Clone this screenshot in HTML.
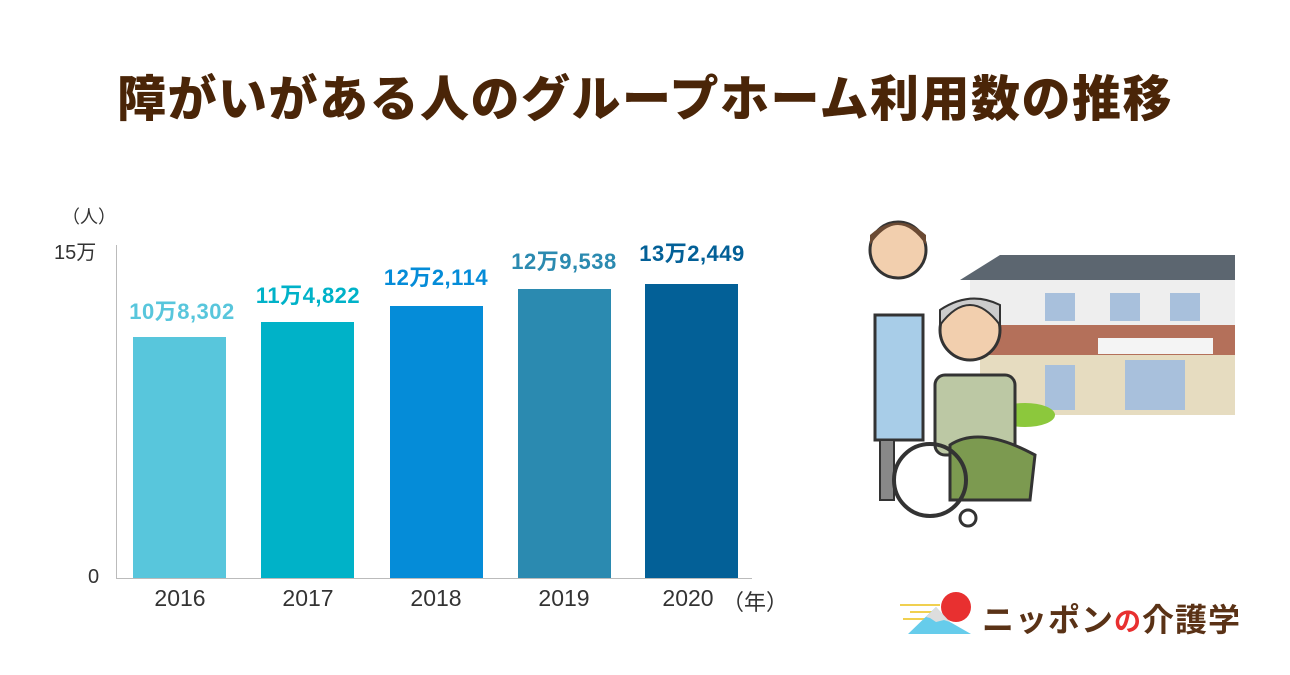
<!DOCTYPE html>
<html><head><meta charset="utf-8"><style>
body{margin:0;width:1290px;height:675px;background:#fff;position:relative;overflow:hidden;font-family:"Liberation Sans","Noto Sans CJK JP",sans-serif}
.t{position:absolute;white-space:nowrap}
.bar{position:absolute;width:93px}
.v{position:absolute;font-weight:bold;font-size:22px;text-align:center;width:140px;letter-spacing:0.5px}
.y{position:absolute;font-size:23px;color:#333;width:100px;text-align:center;top:585px}
</style></head><body>
<div class="t" style="left:0;width:1290px;text-align:center;top:60px;font-size:49px;font-weight:900;color:#4a2508;letter-spacing:1.5px">障がいがある人のグループホーム利用数の推移</div>
<div class="t" style="left:62px;top:203px;font-size:18px;color:#333">（人）</div>
<div class="t" style="left:54px;top:236px;font-size:20px;color:#333">15万</div>
<div class="t" style="left:88px;top:566px;font-size:20px;color:#333">0</div>
<div style="position:absolute;left:116px;top:245px;width:1px;height:333px;background:#bbb"></div>
<div style="position:absolute;left:116px;top:578px;width:636px;height:1px;background:#bbb"></div>
<div class="bar" style="left:133px;top:337px;height:241px;background:#58c6dc"></div>
<div class="bar" style="left:261px;top:322px;height:256px;background:#00b2c8"></div>
<div class="bar" style="left:390px;top:306px;height:272px;background:#058cd8"></div>
<div class="bar" style="left:518px;top:289px;height:289px;background:#2b8ab0"></div>
<div class="bar" style="left:645px;top:284px;height:294px;background:#036097"></div>
<div class="v" style="left:112px;top:294px;color:#58c6dc">10万8,302</div>
<div class="v" style="left:238px;top:278px;color:#00b2c8">11万4,822</div>
<div class="v" style="left:366px;top:260px;color:#058cd8">12万2,114</div>
<div class="v" style="left:494px;top:244px;color:#2b8ab0">12万9,538</div>
<div class="v" style="left:622px;top:236px;color:#036097">13万2,449</div>
<div class="y" style="left:130px">2016</div>
<div class="y" style="left:258px">2017</div>
<div class="y" style="left:386px">2018</div>
<div class="y" style="left:514px">2019</div>
<div class="y" style="left:638px">2020</div>
<div class="t" style="left:722px;top:585px;font-size:22px;color:#333">（年）</div>
<svg style="position:absolute;left:850px;top:200px" width="400" height="340">
<polygon points="110,80 150,55 385,55 385,80" fill="#5c6670"/>
<rect x="120" y="80" width="265" height="55" fill="#eee"/>
<rect x="130" y="125" width="255" height="30" fill="#b4705a"/>
<rect x="130" y="155" width="255" height="60" fill="#e6dcc0"/>
<rect x="248" y="138" width="115" height="16" fill="#f4f4f4"/>
<g fill="#a8c0dc"><rect x="195" y="93" width="30" height="28"/><rect x="260" y="93" width="30" height="28"/><rect x="320" y="93" width="30" height="28"/><rect x="195" y="165" width="30" height="45"/><rect x="275" y="160" width="60" height="50"/></g>
<ellipse cx="175" cy="215" rx="30" ry="12" fill="#8cc83c"/>
<circle cx="48" cy="50" r="28" fill="#f2cfae" stroke="#333" stroke-width="3"/>
<path d="M20,45 Q48,5 76,45 L76,35 Q48,10 20,35Z" fill="#6b4a33"/>
<rect x="25" y="115" width="48" height="125" fill="#a8cde8" stroke="#333" stroke-width="3"/>
<rect x="30" y="240" width="14" height="60" fill="#888" stroke="#333" stroke-width="2"/>
<circle cx="120" cy="130" r="30" fill="#f2cfae" stroke="#333" stroke-width="3"/>
<path d="M90,125 Q120,85 150,125 L150,105 Q120,90 90,110Z" fill="#ccc" stroke="#333" stroke-width="2"/>
<rect x="85" y="175" width="80" height="80" rx="10" fill="#bcc8a4" stroke="#333" stroke-width="3"/>
<path d="M100,245 Q130,225 185,255 L180,300 L100,300Z" fill="#7c9a50" stroke="#333" stroke-width="3"/>
<circle cx="80" cy="280" r="36" fill="none" stroke="#333" stroke-width="4"/>
<circle cx="118" cy="318" r="8" fill="none" stroke="#333" stroke-width="3"/>
</svg>
<svg style="position:absolute;left:898px;top:592px" width="80" height="45">
<g stroke="#f0d050" stroke-width="2"><line x1="2" y1="13" x2="42" y2="13"/><line x1="12" y1="20" x2="36" y2="20"/><line x1="5" y1="27" x2="30" y2="27"/></g>
<circle cx="58" cy="15" r="15" fill="#e83030"/>
<polygon points="10,42 38,15 52,30 73,42" fill="#66cceb"/>
<polygon points="28,25 38,15 52,30 46,28 38,30 32,26" fill="#ddd"/>
</svg>
<div class="t" style="left:982px;top:595px;font-size:32px;font-weight:bold;color:#5a3216;letter-spacing:1px">ニッポン<span style="color:#e83030;font-size:27px">の</span>介護学</div>
</body></html>
